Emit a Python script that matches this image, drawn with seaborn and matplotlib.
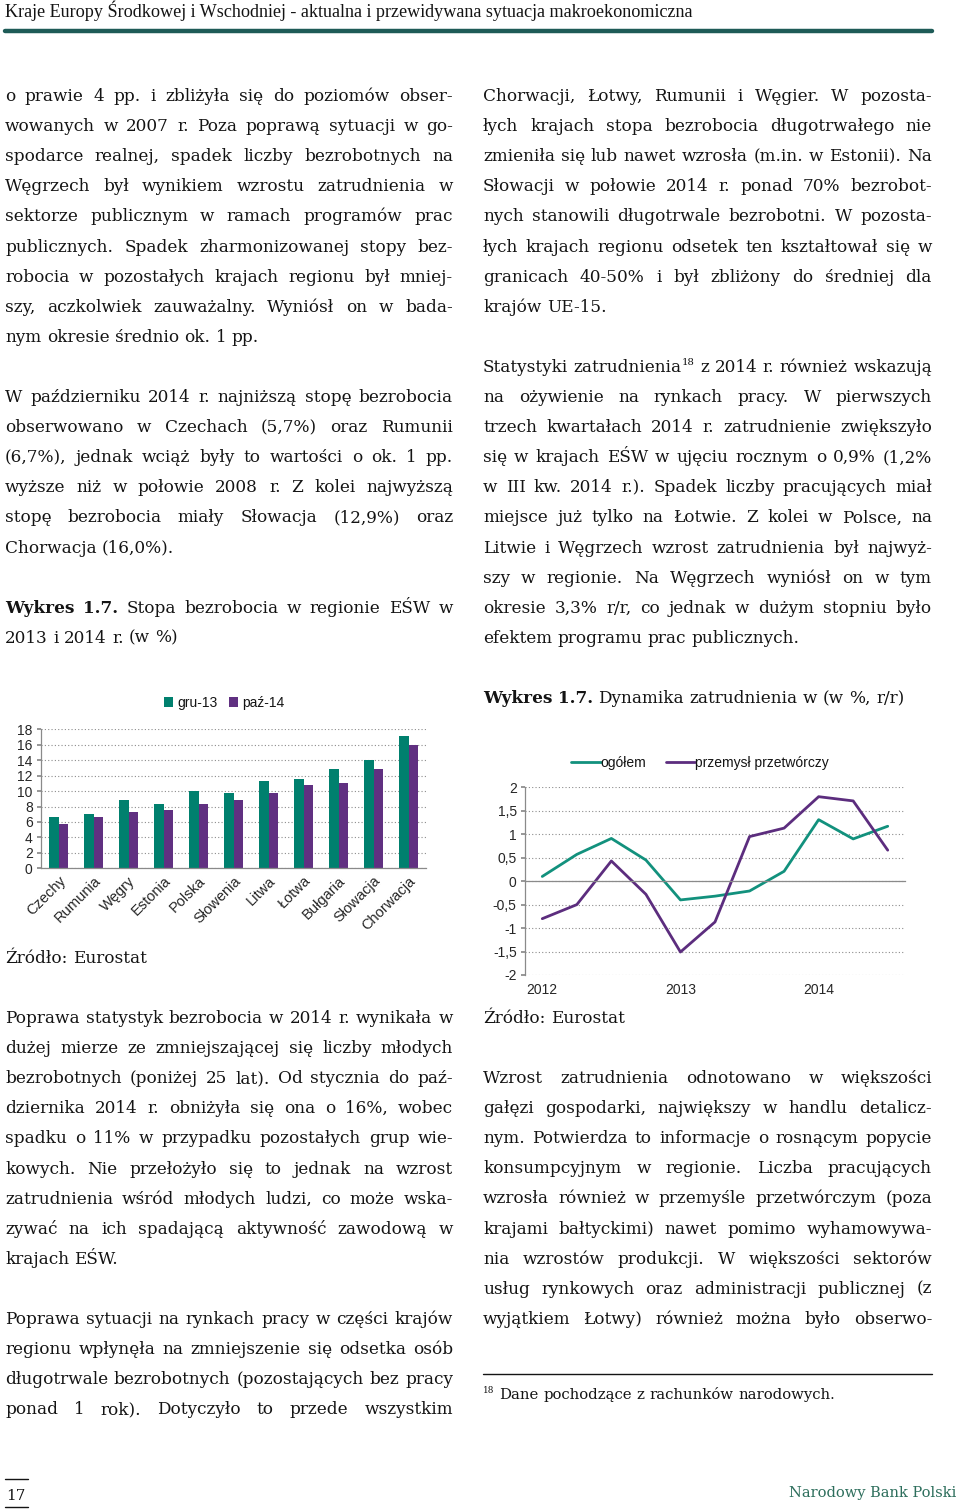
import numpy as np
import pandas as pd
import matplotlib
matplotlib.use('Agg')
import matplotlib.pyplot as plt
import seaborn as sns
from matplotlib.font_manager import FontProperties
from matplotlib.lines import Line2D

# ---- data: chart 1 (stopa bezrobocia, %)
kraje = ['Czechy', 'Rumunia', 'Węgry', 'Estonia', 'Polska', 'Słowenia',
         'Litwa', 'Łotwa', 'Bułgaria', 'Słowacja', 'Chorwacja']
gru_13 = [6.7, 7.0, 8.8, 8.3, 10.0, 9.8, 11.3, 11.5, 12.8, 14.0, 17.1]
paz_14 = [5.7, 6.7, 7.3, 7.5, 8.3, 8.8, 9.8, 10.8, 11.1, 12.9, 16.0]
okresy = ['gru-13', 'paź-14']

# ---- data: chart 2 (dynamika zatrudnienia, % r/r)
kwartaly = ['2012 Q1', '2012 Q2', '2012 Q3', '2012 Q4',
            '2013 Q1', '2013 Q2', '2013 Q3', '2013 Q4',
            '2014 Q1', '2014 Q2', '2014 Q3']
ogolem = [0.10, 0.57, 0.91, 0.45, -0.40, -0.32, -0.21, 0.21, 1.31, 0.90, 1.17]
przemysl = [-0.80, -0.50, 0.43, -0.28, -1.51, -0.87, 0.95, 1.13, 1.80, 1.71, 0.66]
serie = ['ogółem', 'przemysł przetwórczy']

# ---- page text (line breaks as on the page)
header = 'Kraje Europy Środkowej i Wschodniej - aktualna i przewidywana sytuacja makroekonomiczna'
left_p1 = [
    'o prawie 4 pp. i zbliżyła się do poziomów obser-',
    'wowanych w 2007 r. Poza poprawą sytuacji w go-',
    'spodarce realnej, spadek liczby bezrobotnych na',
    'Węgrzech był wynikiem wzrostu zatrudnienia w',
    'sektorze publicznym w ramach programów prac',
    'publicznych. Spadek zharmonizowanej stopy bez-',
    'robocia w pozostałych krajach regionu był mniej-',
    'szy, aczkolwiek zauważalny. Wyniósł on w bada-',
    'nym okresie średnio ok. 1 pp.',
]
left_p2 = [
    'W październiku 2014 r. najniższą stopę bezrobocia',
    'obserwowano w Czechach (5,7%) oraz Rumunii',
    '(6,7%), jednak wciąż były to wartości o ok. 1 pp.',
    'wyższe niż w połowie 2008 r. Z kolei najwyższą',
    'stopę bezrobocia miały Słowacja (12,9%) oraz',
    'Chorwacja (16,0%).',
]
left_caption = [
    '*Wykres *1.7. Stopa bezrobocia w regionie EŚW w',
    '2013 i 2014 r. (w %)',
]
zrodlo = ['Źródło: Eurostat']
left_p3 = [
    'Poprawa statystyk bezrobocia w 2014 r. wynikała w',
    'dużej mierze ze zmniejszającej się liczby młodych',
    'bezrobotnych (poniżej 25 lat). Od stycznia do paź-',
    'dziernika 2014 r. obniżyła się ona o 16%, wobec',
    'spadku o 11% w przypadku pozostałych grup wie-',
    'kowych. Nie przełożyło się to jednak na wzrost',
    'zatrudnienia wśród młodych ludzi, co może wska-',
    'zywać na ich spadającą aktywność zawodową w',
    'krajach EŚW.',
]
left_p4 = [
    'Poprawa sytuacji na rynkach pracy w części krajów',
    'regionu wpłynęła na zmniejszenie się odsetka osób',
    'długotrwale bezrobotnych (pozostających bez pracy',
    'ponad 1 rok). Dotyczyło to przede wszystkim',
]
right_p1 = [
    'Chorwacji, Łotwy, Rumunii i Węgier. W pozosta-',
    'łych krajach stopa bezrobocia długotrwałego nie',
    'zmieniła się lub nawet wzrosła (m.in. w Estonii). Na',
    'Słowacji w połowie 2014 r. ponad 70% bezrobot-',
    'nych stanowili długotrwale bezrobotni. W pozosta-',
    'łych krajach regionu odsetek ten kształtował się w',
    'granicach 40-50% i był zbliżony do średniej dla',
    'krajów UE-15.',
]
right_p2 = [
    'Statystyki zatrudnienia^18 z 2014 r. również wskazują',
    'na ożywienie na rynkach pracy. W pierwszych',
    'trzech kwartałach 2014 r. zatrudnienie zwiększyło',
    'się w krajach EŚW w ujęciu rocznym o 0,9% (1,2%',
    'w III kw. 2014 r.). Spadek liczby pracujących miał',
    'miejsce już tylko na Łotwie. Z kolei w Polsce, na',
    'Litwie i Węgrzech wzrost zatrudnienia był najwyż-',
    'szy w regionie. Na Węgrzech wyniósł on w tym',
    'okresie 3,3% r/r, co jednak w dużym stopniu było',
    'efektem programu prac publicznych.',
]
right_caption = ['*Wykres *1.7. Dynamika zatrudnienia w (w %, r/r)']
right_p3 = [
    'Wzrost zatrudnienia odnotowano w większości',
    'gałęzi gospodarki, największy w handlu detalicz-',
    'nym. Potwierdza to informacje o rosnącym popycie',
    'konsumpcyjnym w regionie. Liczba pracujących',
    'wzrosła również w przemyśle przetwórczym (poza',
    'krajami bałtyckimi) nawet pomimo wyhamowywa-',
    'nia wzrostów produkcji. W większości sektorów',
    'usług rynkowych oraz administracji publicznej (z',
    'wyjątkiem Łotwy) również można było obserwo-',
]
footnote = ['^18 Dane pochodzące z rachunków narodowych.']

# ---- style
W, H = 960, 1509
TEAL, PURPLE = '#00806E', '#603081'
TEAL_L, PURPLE_L = '#12917D', '#5C2D7E'
INK = '#141414'
AXIS = '#8a8a8a'
SERIF = 'DejaVu Serif'
LEAD = 30.1

sns.set_theme(style='white')
plt.rcParams['font.family'] = ['Liberation Sans', 'DejaVu Sans']
plt.rcParams['text.color'] = INK

fig = plt.figure(figsize=(W / 100, H / 100), dpi=100)
renderer = fig.canvas.get_renderer()


def fp(size, bold=False, family=SERIF):
    return FontProperties(family=family, size=size, weight='bold' if bold else 'normal')


def tw(s, prop):
    return renderer.get_text_width_height_descent(s, prop, ismath=False)[0]


def segs(word, size):
    bold = word.startswith('*')
    base, _, sup = word.lstrip('*').partition('^')
    out = []
    if base:
        out.append((base, fp(size, bold), 0.0))
    if sup:
        out.append((sup, fp(size * 0.6), size * 1.389 * 0.42))
    return out


def word_w(word, size):
    return sum(tw(t, p) for t, p, _ in segs(word, size))


def space_w(size):
    p = fp(size)
    return tw('a a', p) - tw('aa', p)


def draw_line(line, x0, x1, base, size, justify, color=INK):
    words = line.split()
    widths = [word_w(w, size) for w in words]
    gap = space_w(size)
    if justify and len(words) > 1:
        gap = max((x1 - x0 - sum(widths)) / (len(words) - 1), gap * 0.4)
    x = x0
    for w, ww in zip(words, widths):
        xx = x
        for t, p, rise in segs(w, size):
            fig.text(xx / W, 1 - (base - rise) / H, t, fontproperties=p,
                     color=color, ha='left', va='baseline')
            xx += tw(t, p)
        x += ww + gap


def paragraph(lines, cols, base0, size, last_justified=False):
    for i, line in enumerate(lines):
        last = i == len(lines) - 1
        draw_line(line, cols[0], cols[1], base0 + i * LEAD, size,
                  justify=(not last) or last_justified)


# body size calibrated against widths of unjustified lines on the page
calib = [(left_p1[-1], 253), (left_p2[-1], 165), (right_p1[-1], 122),
         (right_p2[-1], 318), (left_p3[-1], 112), (zrodlo[0], 133)]
nat = sum(sum(word_w(w, 10) for w in s.split()) + space_w(10) * (len(s.split()) - 1)
          for s, _ in calib)
BODY = 10 * sum(t for _, t in calib) / nat * 1.015

LEFT = (5, 453)
RIGHT = (483, 932)

# header and page furniture
hp = fp(10, family='Liberation Serif')
hsize = 10 * 692 / tw(header, hp)
fig.text(5 / W, 1 - 17 / H, header, fontproperties=fp(hsize, family='Liberation Serif'),
         color=INK, va='baseline')
fig.add_artist(Line2D([5 / W, 932 / W], [1 - 31 / H] * 2, color='#1E5B57', lw=3.2))

nbp = 'Narodowy Bank Polski'
nsize = 10 * 168 / tw(nbp, fp(10))
fig.text(956 / W, 1 - 1497 / H, nbp, fontproperties=fp(nsize), color='#2D6E5C',
         ha='right', va='baseline')
fig.text(16 / W, 1 - 1500 / H, '17', fontproperties=fp(BODY * 0.9), color=INK,
         ha='center', va='baseline')
for yy in (1479, 1507):
    fig.add_artist(Line2D([5 / W, 28 / W], [1 - yy / H] * 2, color=INK, lw=1))

# text columns
paragraph(left_p1, LEFT, 101, BODY)
paragraph(left_p2, LEFT, 101 + 10 * LEAD, BODY)
paragraph(left_caption, LEFT, 101 + 17 * LEAD, BODY)
paragraph(zrodlo, LEFT, 963, BODY)
paragraph(left_p3, LEFT, 1023, BODY)
paragraph(left_p4, LEFT, 1023 + 10 * LEAD, BODY, last_justified=True)

paragraph(right_p1, RIGHT, 101, BODY)
paragraph(right_p2, RIGHT, 101 + 9 * LEAD, BODY)
paragraph(right_caption, RIGHT, 101 + 20 * LEAD, BODY)
paragraph(zrodlo, RIGHT, 1023, BODY)
paragraph(right_p3, RIGHT, 1083, BODY, last_justified=True)
fig.add_artist(Line2D([483 / W, 932 / W], [1 - 1374 / H] * 2, color=INK, lw=1))
paragraph(footnote, RIGHT, 1399, BODY * 0.88)

# ---- chart 1: bars
df_bar = pd.DataFrame({
    'kraj': kraje * 2,
    'okres': [okresy[0]] * len(kraje) + [okresy[1]] * len(kraje),
    'stopa': gru_13 + paz_14,
})
ax1 = fig.add_axes([41 / W, 1 - 868.3 / H, 385 / W, 139 / H])
sns.barplot(data=df_bar, x='kraj', y='stopa', hue='okres', palette=[TEAL, PURPLE],
            width=0.55, saturation=1, linewidth=0, ax=ax1)
ax1.set_xlim(-0.5, len(kraje) - 0.5)
ax1.set_ylim(0, 18)
ax1.set_yticks(range(0, 19, 2))
ax1.set_xlabel('')
ax1.set_ylabel('')
ax1.yaxis.grid(True, linestyle=(0, (1, 2)), color='#8c8c8c', lw=0.8)
ax1.set_axisbelow(True)
for s in ('top', 'right'):
    ax1.spines[s].set_visible(False)
for s in ('left', 'bottom'):
    ax1.spines[s].set_color(AXIS)
    ax1.spines[s].set_linewidth(0.9)
ax1.set_xticks(np.arange(-0.5, len(kraje), 1), minor=True)
ax1.tick_params(axis='x', which='major', length=0, pad=4, labelsize=10.5)
ax1.tick_params(axis='x', which='minor', length=4, color=AXIS, direction='out')
ax1.tick_params(axis='y', length=3, color=AXIS, direction='out', pad=3, labelsize=10, left=True)
for lab in ax1.get_xticklabels():
    lab.set_rotation(45)
    lab.set_ha('right')
    lab.set_va('top')
    lab.set_rotation_mode('anchor')
sns.move_legend(ax1, 'center', bbox_to_anchor=(224 / W, 1 - 703 / H),
                bbox_transform=fig.transFigure, ncol=2, frameon=False, title=None,
                fontsize=10, handlelength=0.65, handleheight=0.65,
                handletextpad=0.3, columnspacing=0.8)

# ---- chart 2: lines
df_line = pd.DataFrame({
    'poz': list(range(len(kwartaly))) * 2,
    'seria': [serie[0]] * len(kwartaly) + [serie[1]] * len(kwartaly),
    'wartosc': ogolem + przemysl,
})
ax2 = fig.add_axes([525 / W, 1 - 975 / H, 380 / W, 187.7 / H])
sns.lineplot(data=df_line, x='poz', y='wartosc', hue='seria',
             palette=[TEAL_L, PURPLE_L], linewidth=2.0, ax=ax2)
ax2.set_xlim(-0.5, len(kwartaly) - 0.5)
ax2.set_ylim(-2, 2)
yt = np.arange(-2, 2.01, 0.5)
ax2.set_yticks(yt, labels=[f'{v:g}'.replace('.', ',') for v in yt])
ax2.set_xlabel('')
ax2.set_ylabel('')
ax2.yaxis.grid(True, linestyle=(0, (1, 2)), color='#8c8c8c', lw=0.8)
ax2.set_axisbelow(True)
for s in ('top', 'right'):
    ax2.spines[s].set_visible(False)
ax2.spines['bottom'].set_position(('data', 0))
for s in ('left', 'bottom'):
    ax2.spines[s].set_color(AXIS)
    ax2.spines[s].set_linewidth(0.9)
ax2.set_xticks([])
ax2.set_xticks(np.arange(-0.5, len(kwartaly), 1), minor=True)
ax2.tick_params(axis='x', which='minor', length=4, color=AXIS, direction='out')
ax2.tick_params(axis='y', length=3, color=AXIS, direction='out', pad=3, labelsize=10, left=True)
years = [(i, k.split()[0]) for i, k in enumerate(kwartaly) if k.endswith('Q1')]
sec = ax2.secondary_xaxis('bottom')
sec.set_xticks([i for i, _ in years], labels=[y for _, y in years])
sec.tick_params(length=0, pad=6, labelsize=10)
sec.spines['bottom'].set_visible(False)
sns.move_legend(ax2, 'center', bbox_to_anchor=(700 / W, 1 - 763 / H),
                bbox_transform=fig.transFigure, ncol=2, frameon=False, title=None,
                fontsize=10, handlelength=2.1, handletextpad=0.0, columnspacing=1.4)

fig.savefig('out.png', dpi=100)
